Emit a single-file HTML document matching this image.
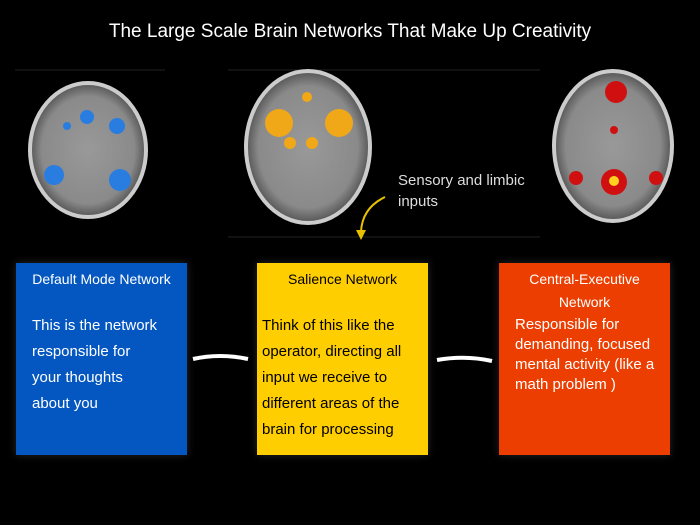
<!DOCTYPE html>
<html><head><meta charset="utf-8"><style>
body{margin:0;background:#000;width:700px;height:525px;overflow:hidden;position:relative;font-family:"Liberation Sans",sans-serif}
.t{position:absolute;left:0;width:700px;top:21px;text-align:center;color:#fff;font-size:19px}
.b{position:absolute;top:263px;height:192px;width:171px;box-shadow:0 0 8px rgba(255,255,255,0.15)}
.h{position:absolute;font-size:14px;text-align:center;width:100%;line-height:23px}
.p{position:absolute;font-size:15px;line-height:26px}
.s{position:absolute;color:#ddd;font-size:15px;line-height:21px}
</style></head><body>
<div class="t">The Large Scale Brain Networks That Make Up Creativity</div>
<svg width="700" height="525" style="position:absolute;left:0;top:0">
<defs><radialGradient id="g"><stop offset="0" stop-color="#999"/><stop offset="0.8" stop-color="#8a8a8a"/><stop offset="1" stop-color="#555"/></radialGradient></defs>
<line x1="15" y1="70" x2="165" y2="70" stroke="#222"/>
<line x1="228" y1="70" x2="540" y2="70" stroke="#222"/>
<line x1="228" y1="237" x2="540" y2="237" stroke="#222"/>
<ellipse cx="88" cy="150" rx="58" ry="67" fill="url(#g)" stroke="#ccc" stroke-width="4"/>
<ellipse cx="308" cy="147" rx="62" ry="76" fill="url(#g)" stroke="#ccc" stroke-width="4"/>
<ellipse cx="613" cy="146" rx="59" ry="75" fill="url(#g)" stroke="#ccc" stroke-width="4"/>
<g fill="#2a7de0"><circle cx="87" cy="117" r="7"/><circle cx="117" cy="126" r="8"/><circle cx="67" cy="126" r="4"/><circle cx="54" cy="175" r="10"/><circle cx="120" cy="180" r="11"/></g>
<g fill="#f0a818"><circle cx="279" cy="123" r="14"/><circle cx="339" cy="123" r="14"/><circle cx="307" cy="97" r="5"/><circle cx="290" cy="143" r="6"/><circle cx="312" cy="143" r="6"/></g>
<g fill="#d01010"><circle cx="616" cy="92" r="11"/><circle cx="614" cy="182" r="13"/><circle cx="576" cy="178" r="7"/><circle cx="656" cy="178" r="7"/><circle cx="614" cy="130" r="4"/></g>
<circle cx="614" cy="181" r="5" fill="#ffd020"/>
<path d="M385 197 Q362 208 361 232" stroke="#e8c000" stroke-width="2" fill="none"/>
<path d="M356 230 L361 240 L366 230 Z" fill="#e8c000"/>
<path d="M193 359 Q220 353 248 359" stroke="#fff" stroke-width="4" fill="none"/>
<path d="M437 360 Q465 355 492 361" stroke="#fff" stroke-width="4" fill="none"/>
</svg>
<div class="s" style="left:398px;top:170px">Sensory and limbic<br>inputs</div>
<div class="b" style="left:16px;background:#0457c0;color:#fff"><div class="h" style="top:5px">Default Mode Network</div><div class="p" style="left:16px;top:50px">This is the network<br>responsible for<br>your thoughts<br>about you</div></div>
<div class="b" style="left:257px;background:#ffce00;color:#000"><div class="h" style="top:5px">Salience Network</div><div class="p" style="left:5px;top:50px">Think of this like the<br>operator, directing all<br>input we receive to<br>different areas of the<br>brain for processing</div></div>
<div class="b" style="left:499px;background:#ec3e00;color:#fff"><div class="h" style="top:5px">Central-Executive<br>Network</div><div class="p" style="left:16px;top:52px;line-height:20px">Responsible for<br>demanding, focused<br>mental activity (like a<br>math problem )</div></div>
</body></html>
